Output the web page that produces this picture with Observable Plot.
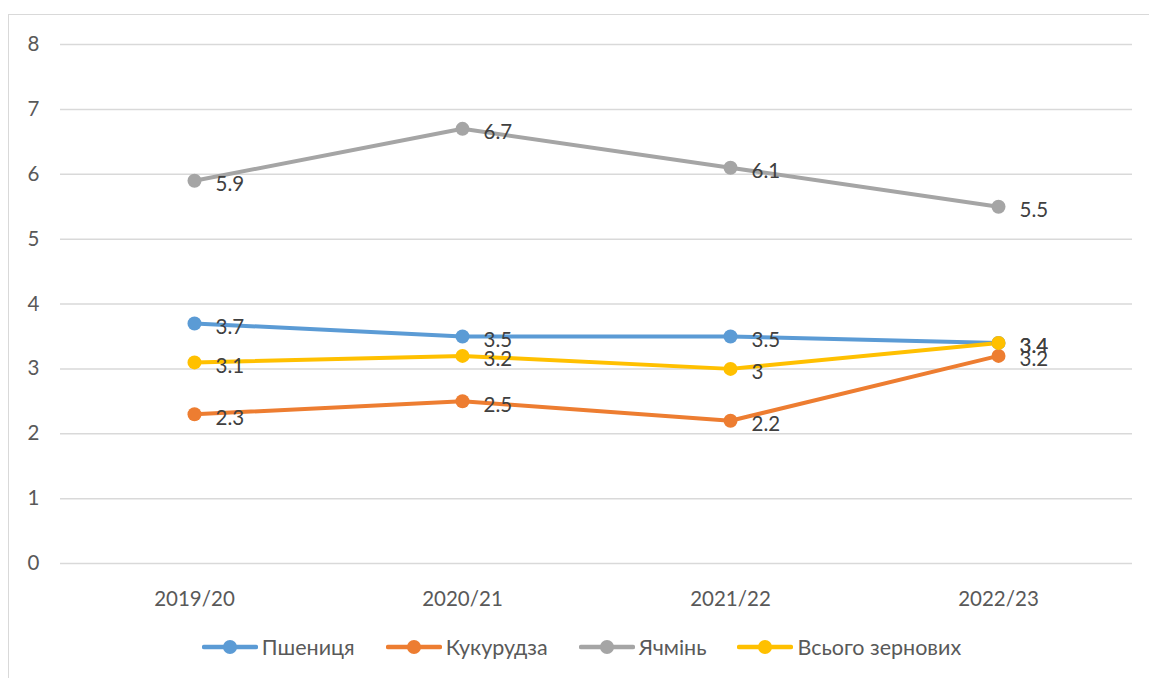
<!DOCTYPE html>
<html>
<head>
<meta charset="utf-8">
<script src="https://cdn.jsdelivr.net/npm/d3@7"></script>
<script src="https://cdn.jsdelivr.net/npm/@observablehq/plot@0.6"></script>
<style>
  html, body { margin: 0; padding: 0; background: #fff; }
  body { width: 1149px; height: 678px; position: relative; overflow: hidden; font-family: Lato, "Open Sans", sans-serif; }
  #frame { position: absolute; left: 8px; top: 14px; width: 1160px; height: 700px; border-left: 1.5px solid #d9d9d9; border-top: 1.5px solid #d9d9d9; }
  #chart { position: absolute; left: 0; top: 0; }
  #legend { position: absolute; top: 634px; left: 0; width: 1149px; display: flex; justify-content: center; gap: 31px; font-size: 21.5px; color: #595959; padding-left: 14px; box-sizing: border-box; }
  .item { display: flex; align-items: center; gap: 4px; }
</style>
</head>
<body>
<div id="frame"></div>
<div id="chart"></div>
<div id="legend"></div>
<script>
const seasons = ["2019/20", "2020/21", "2021/22", "2022/23"];
const seriesNames = ["Пшениця", "Кукурудза", "Ячмінь", "Всього зернових"];
const seriesColors = ["#5B9BD5", "#ED7D31", "#A5A5A5", "#FFC000"];
const wheat = [3.7, 3.5, 3.5, 3.4];
const corn = [2.3, 2.5, 2.2, 3.2];
const barley = [5.9, 6.7, 6.1, 5.5];
const totalGrain = [3.1, 3.2, 3.0, 3.4];
const yTicks = [0, 1, 2, 3, 4, 5, 6, 7, 8];

const valuesBySeries = [wheat, corn, barley, totalGrain];
const data = [];
valuesBySeries.forEach((vals, si) => {
  vals.forEach((v, i) => data.push({season: seasons[i], series: seriesNames[si], value: v}));
});

const W = 1149, H = 620;
const chart = Plot.plot({
  width: W,
  height: H,
  marginLeft: 60,
  marginRight: 17,
  marginTop: 44,
  marginBottom: 57,
  style: {fontFamily: "Lato, 'Open Sans', sans-serif", fontSize: "20px", color: "#595959", background: "transparent"},
  x: {type: "point", domain: seasons, padding: 0.5, label: null},
  y: {domain: [0, 8], label: null},
  color: {domain: seriesNames, range: seriesColors},
  marks: [
    Plot.ruleY(yTicks, {stroke: "#d9d9d9", strokeWidth: 1.5}),
    Plot.axisX({tickSize: 0, tickPadding: 28, fontSize: 20.5, fill: "#595959", label: null}),
    Plot.axisY({ticks: yTicks, tickSize: 0, tickPadding: 21, fontSize: 20.5, fill: "#595959", tickFormat: d => String(d), label: null}),
    Plot.line(data, {x: "season", y: "value", z: "series", stroke: "series", strokeWidth: 4}),
    Plot.dot(data, {x: "season", y: "value", fill: "series", r: 7}),
    Plot.text(data, {x: "season", y: "value", text: d => String(d.value), textAnchor: "start", dx: 21, dy: 4, fill: "#404040", fontSize: 20.5})
  ]
});
document.getElementById("chart").appendChild(chart);

const legend = document.getElementById("legend");
seriesNames.forEach((name, i) => {
  const item = document.createElement("div");
  item.className = "item";
  item.innerHTML = `<svg width="56" height="16"><line x1="2" x2="54" y1="8" y2="8" stroke="${seriesColors[i]}" stroke-width="4.5" stroke-linecap="round"/><circle cx="28" cy="8" r="7" fill="${seriesColors[i]}"/></svg><span>${name}</span>`;
  legend.appendChild(item);
});
</script>
</body>
</html>
